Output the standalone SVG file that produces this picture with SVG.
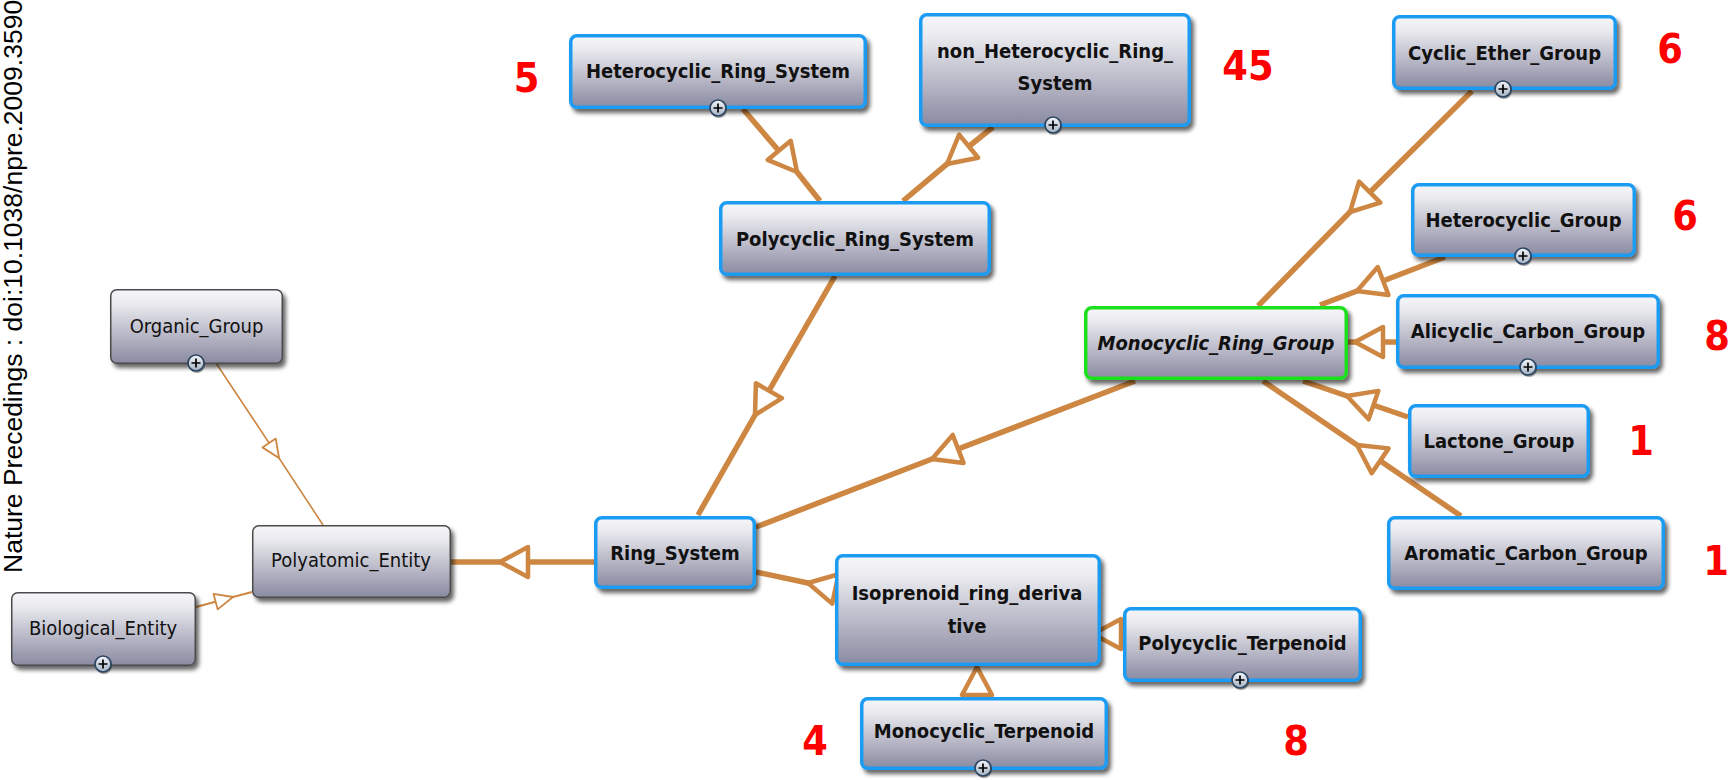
<svg xmlns="http://www.w3.org/2000/svg" xmlns:xlink="http://www.w3.org/1999/xlink" width="1728" height="780" viewBox="0 0 1728 780">
<style>
.node{fill:url(#ng);filter:url(#sh)}
.blue{stroke:#1e9bf2;stroke-width:3.5}
.green{stroke:#1ee01e;stroke-width:3.5}
.plain{stroke:#4c4c4c;stroke-width:1.5}
.lbl{font-family:"DejaVu Sans Condensed","DejaVu Sans",sans-serif;font-stretch:condensed;font-size:20px;font-weight:bold;fill:#111;text-anchor:middle}
.reg{font-weight:normal}
.ita{font-style:italic}
.num{font-family:"DejaVu Sans Condensed","DejaVu Sans",sans-serif;font-stretch:condensed;font-size:41px;font-weight:bold;fill:#ff0000;text-anchor:middle}
.edge{fill:none;stroke:#cd8742;stroke-width:5.5;stroke-linejoin:round}
.thin{fill:none;stroke:#cd8742;stroke-width:1.6}
.side{font-family:"Liberation Sans",Arial,sans-serif;font-size:26.5px;fill:#000}
</style>
<defs>
<linearGradient id="ng" x1="0" y1="0" x2="0" y2="1">
<stop offset="0" stop-color="#f7f7fa"/>
<stop offset="0.18" stop-color="#ebebf0"/>
<stop offset="1" stop-color="#8a8aa2"/>
</linearGradient>
<linearGradient id="pg" x1="0" y1="0" x2="0" y2="1">
<stop offset="0" stop-color="#f4f7fb"/>
<stop offset="1" stop-color="#a3b1c3"/>
</linearGradient>
<filter id="sh" x="-10%" y="-15%" width="125%" height="145%">
<feDropShadow dx="3" dy="4" stdDeviation="2" flood-color="#000" flood-opacity="0.6"/>
</filter>
<marker id="tri" markerUnits="userSpaceOnUse" viewBox="-34 -20 38 40" refX="0" refY="0" markerWidth="38" markerHeight="40" orient="auto" overflow="visible">
<path d="M0,0 L-28,-15 L-28,15 Z" fill="#fff" stroke="#cd8742" stroke-width="4.5" stroke-linejoin="round"/>
</marker>
<marker id="tri2" markerUnits="userSpaceOnUse" viewBox="-24 -12 28 24" refX="0" refY="0" markerWidth="28" markerHeight="24" orient="auto" overflow="visible">
<path d="M0,0 L-18,-8 L-18,8 Z" fill="#fff" stroke="#cd8742" stroke-width="1.8" stroke-linejoin="round"/>
</marker>
<g id="plus">
<circle cx="1" cy="2" r="8" fill="#000" opacity="0.35"/>
<circle cx="0" cy="0" r="8" fill="url(#pg)" stroke="#2d4560" stroke-width="1.7"/>
<path d="M-4.5,0 H4.5 M0,-4.5 V4.5" stroke="#000" stroke-width="1.7"/>
</g>
</defs>
<rect width="1728" height="780" fill="#fff"/>
<text class="side" transform="translate(21.5,573) rotate(-90)">Nature Precedings : doi:10.1038/npre.2009.3590</text>

<g id="connectors">
<path class="thin" d="M216,363 L279,458 L323,525" marker-mid="url(#tri2)"/>
<path class="thin" style="stroke-width:2" d="M196,607 L233,597 L252,592" marker-mid="url(#tri2)"/>
<path class="edge" d="M594,562 L500,562 L451,562" marker-mid="url(#tri)"/>
<path class="edge" d="M835,276 L755,415 L698,515" marker-mid="url(#tri)"/>
<path class="edge" d="M743,109 L797,172 L820,201" marker-mid="url(#tri)"/>
<path class="edge" d="M993,127 L947,164 L903,201" marker-mid="url(#tri)"/>
<path class="edge" d="M1135,381 L932,459 L756,527" marker-mid="url(#tri)"/>
<path class="edge" d="M835,589 L808,583 L756,572" marker-mid="url(#tri)"/>
<path class="edge" d="M1123,634 L1093,634" marker-end="url(#tri)"/>
<path class="edge" d="M977,697 L977,667" marker-end="url(#tri)"/>
<path class="edge" d="M1472,91 L1350,212 L1258,306" marker-mid="url(#tri)"/>
<path class="edge" d="M1445,257 L1357,291 L1320,305" marker-mid="url(#tri)"/>
<path class="edge" d="M1396,342 L1355,342 L1348,342" marker-mid="url(#tri)"/>
<path class="edge" d="M1408,417 L1347,396 L1303,381" marker-mid="url(#tri)"/>
<path class="edge" d="M1461,516 L1357,445 L1263,381" marker-mid="url(#tri)"/>
</g>

<g id="n-organic-group">
<rect class="node plain" x="110.75" y="289.75" width="171.5" height="73.5" rx="6"/>
<text class="lbl reg" x="196.5" y="333">Organic_Group</text>
<use href="#plus" x="196" y="363"/>
</g>
<g id="n-polyatomic-entity">
<rect class="node plain" x="252.75" y="525.75" width="197.5" height="71.5" rx="6"/>
<text class="lbl reg" x="351" y="567">Polyatomic_Entity</text>
</g>
<g id="n-biological-entity">
<rect class="node plain" x="11.75" y="592.75" width="183.5" height="72.5" rx="6"/>
<text class="lbl reg" x="103" y="635">Biological_Entity</text>
<use href="#plus" x="103" y="664"/>
</g>
<g id="n-ring-system">
<rect class="node blue" x="595.75" y="517.75" width="158.5" height="69.5" rx="6"/>
<text class="lbl" x="675" y="560">Ring_System</text>
</g>
<g id="n-polycyclic-ring-system">
<rect class="node blue" x="720.75" y="202.75" width="268.5" height="71.5" rx="6"/>
<text class="lbl" x="855" y="246">Polycyclic_Ring_System</text>
</g>
<g id="n-heterocyclic-ring-system">
<rect class="node blue" x="570.75" y="35.75" width="294.5" height="71.5" rx="6"/>
<text class="lbl" x="718" y="78">Heterocyclic_Ring_System</text>
<use href="#plus" x="718" y="108"/>
</g>
<g id="n-non-heterocyclic-ring-system">
<rect class="node blue" x="920.75" y="14.75" width="268.5" height="110.5" rx="6"/>
<text class="lbl" x="1055" y="58">non_Heterocyclic_Ring_</text>
<text class="lbl" x="1055" y="90">System</text>
<use href="#plus" x="1053" y="125"/>
</g>
<g id="n-monocyclic-ring-group">
<rect class="node green" x="1085.75" y="307.75" width="260.5" height="70.5" rx="6"/>
<text class="lbl ita" x="1216" y="350">Monocyclic_Ring_Group</text>
</g>
<g id="n-cyclic-ether-group">
<rect class="node blue" x="1393.75" y="16.75" width="221.5" height="71.5" rx="6"/>
<text class="lbl" x="1504.5" y="60">Cyclic_Ether_Group</text>
<use href="#plus" x="1503" y="89"/>
</g>
<g id="n-heterocyclic-group">
<rect class="node blue" x="1412.75" y="184.75" width="221.5" height="70.5" rx="6"/>
<text class="lbl" x="1523.5" y="227">Heterocyclic_Group</text>
<use href="#plus" x="1523" y="256"/>
</g>
<g id="n-alicyclic-carbon-group">
<rect class="node blue" x="1397.75" y="295.75" width="260.5" height="71.5" rx="6"/>
<text class="lbl" x="1528" y="338">Alicyclic_Carbon_Group</text>
<use href="#plus" x="1528" y="367"/>
</g>
<g id="n-lactone-group">
<rect class="node blue" x="1409.75" y="405.75" width="178.5" height="70.5" rx="6"/>
<text class="lbl" x="1499" y="448">Lactone_Group</text>
</g>
<g id="n-aromatic-carbon-group">
<rect class="node blue" x="1388.75" y="517.75" width="274.5" height="70.5" rx="6"/>
<text class="lbl" x="1526" y="560">Aromatic_Carbon_Group</text>
</g>
<g id="n-isoprenoid-ring-derivative">
<rect class="node blue" x="836.75" y="555.75" width="262.5" height="108.5" rx="6"/>
<text class="lbl" x="967" y="600">Isoprenoid_ring_deriva</text>
<text class="lbl" x="967" y="633">tive</text>
</g>
<g id="n-polycyclic-terpenoid">
<rect class="node blue" x="1124.75" y="608.75" width="235.5" height="71.5" rx="6"/>
<text class="lbl" x="1242.5" y="650">Polycyclic_Terpenoid</text>
<use href="#plus" x="1240" y="680"/>
</g>
<g id="n-monocyclic-terpenoid">
<rect class="node blue" x="861.75" y="698.75" width="244.5" height="69.5" rx="6"/>
<text class="lbl" x="984" y="738">Monocyclic_Terpenoid</text>
<use href="#plus" x="983" y="768"/>
</g>

<g id="counts">
<text class="num" x="526.5" y="92">5</text>
<text class="num" x="1248" y="80">45</text>
<text class="num" x="1670" y="63">6</text>
<text class="num" x="1685" y="230">6</text>
<text class="num" x="1717" y="350">8</text>
<text class="num" x="1641" y="455">1</text>
<text class="num" x="1716" y="575">1</text>
<text class="num" x="1296" y="755">8</text>
<text class="num" x="815" y="755">4</text>
</g>
</svg>
